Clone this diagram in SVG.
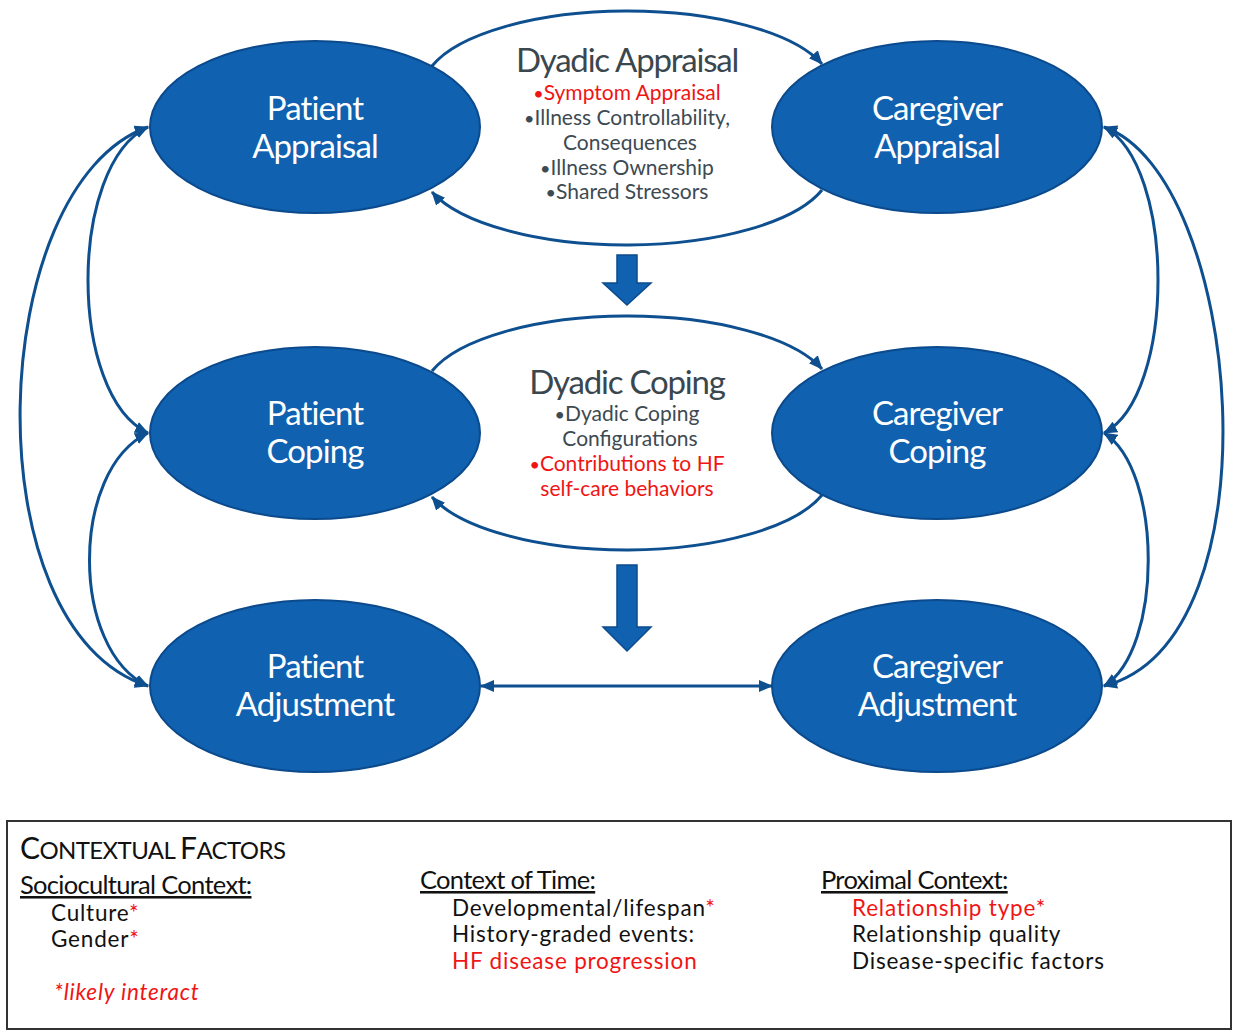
<svg xmlns="http://www.w3.org/2000/svg" width="1233" height="1036" viewBox="0 0 1233 1036">
  <style>
    .node { fill: #1061b0; stroke: #0b4a8c; stroke-width: 2; }
    .ntext { font-family: Lato, "Open Sans", sans-serif; font-size: 33px; fill: #ffffff; text-anchor: middle; letter-spacing: -0.9px; }
    .conn { fill: none; stroke: #0e4f8f; stroke-width: 3; }
    .block { fill: #1061b0; stroke: #0b4a8c; stroke-width: 1.5; }
    .dtitle { font-family: Lato, "Open Sans", sans-serif; font-size: 33px; fill: #3a474e; text-anchor: middle; letter-spacing: -1.2px; }
    .dtext { font-family: Lato, "Open Sans", sans-serif; font-size: 21px; fill: #3d4a52; text-anchor: middle; }
    .bul { font-size: 18px; }
    .ctx { font-family: Lato, "Open Sans", sans-serif; font-size: 22.5px; letter-spacing: 0.8px; fill: #111111; }
    .head { font-size: 25.5px; text-decoration: underline; letter-spacing: -0.7px; }
    text.red, tspan.red { fill: #f01515; }
  </style>
  <defs>
    <marker id="tip" markerUnits="userSpaceOnUse" viewBox="0 0 14 12" markerWidth="14" markerHeight="12" refX="13" refY="6" orient="auto-start-reverse">
      <path d="M0,0 L14,6 L0,12 z" fill="#0e4f8f"/>
    </marker>
  </defs>

  <rect width="1233" height="1036" fill="#ffffff"/>

  <!-- connectors -->
  <g id="connectors">
    <!-- dyadic appraisal loop -->
    <path class="conn" d="M432,66 A205,78 0 0 1 822,64" marker-end="url(#tip)"/>
    <path class="conn" d="M822,190 A205,78 0 0 1 432,192" marker-end="url(#tip)"/>
    <!-- dyadic coping loop -->
    <path class="conn" d="M432,371 A205,78 0 0 1 822,369" marker-end="url(#tip)"/>
    <path class="conn" d="M822,495 A205,78 0 0 1 432,497" marker-end="url(#tip)"/>
    <!-- left side links -->
    <path class="conn" d="M148,127 C-15,185 -30,630 148,686" marker-start="url(#tip)" marker-end="url(#tip)"/>
    <path class="conn" d="M148,127 C68,165 68,395 148,433" marker-start="url(#tip)" marker-end="url(#tip)"/>
    <path class="conn" d="M148,433 C70,470 70,650 148,686" marker-start="url(#tip)" marker-end="url(#tip)"/>
    <!-- right side links -->
    <path class="conn" d="M1104,127 C1242,175 1282,640 1104,686" marker-start="url(#tip)" marker-end="url(#tip)"/>
    <path class="conn" d="M1104,127 C1176,165 1176,395 1104,433" marker-start="url(#tip)" marker-end="url(#tip)"/>
    <path class="conn" d="M1104,433 C1163,470 1163,650 1104,686" marker-start="url(#tip)" marker-end="url(#tip)"/>
    <!-- adjustment link -->
    <path class="conn" d="M481,686 L772,686" marker-start="url(#tip)" marker-end="url(#tip)"/>
    <!-- flow arrows -->
    <polygon class="block" points="617,255 637,255 637,283 651,283 627,305 603,283 617,283"/>
    <polygon class="block" points="617,565 637,565 637,627 651,627 627,651 603,627 617,627"/>
  </g>

  <!-- dyadic appraisal -->
  <g id="dyadic-appraisal">
    <text class="dtitle" x="627" y="72">Dyadic Appraisal</text>
    <text class="dtext red" x="627" y="100"><tspan class="bul">•</tspan>Symptom Appraisal</text>
    <text class="dtext" x="627" y="125"><tspan class="bul">•</tspan>Illness Controllability,</text>
    <text class="dtext" x="630" y="150">Consequences</text>
    <text class="dtext" x="627" y="175"><tspan class="bul">•</tspan>Illness Ownership</text>
    <text class="dtext" x="627" y="199"><tspan class="bul">•</tspan>Shared Stressors</text>
  </g>

  <!-- dyadic coping -->
  <g id="dyadic-coping">
    <text class="dtitle" x="627" y="394">Dyadic Coping</text>
    <text class="dtext" x="627" y="421"><tspan class="bul">•</tspan>Dyadic Coping</text>
    <text class="dtext" x="630" y="446">Configurations</text>
    <text class="dtext red" x="627" y="471"><tspan class="bul">•</tspan>Contributions to HF</text>
    <text class="dtext red" x="627" y="496">self-care behaviors</text>
  </g>

  <g id="patient-appraisal">
    <ellipse class="node" cx="315" cy="127" rx="165" ry="86"/>
    <text class="ntext" x="315" y="120">Patient</text>
    <text class="ntext" x="315" y="158">Appraisal</text>
  </g>
  <g id="caregiver-appraisal">
    <ellipse class="node" cx="937" cy="127" rx="165" ry="86"/>
    <text class="ntext" x="937" y="120">Caregiver</text>
    <text class="ntext" x="937" y="158">Appraisal</text>
  </g>
  <g id="patient-coping">
    <ellipse class="node" cx="315" cy="433" rx="165" ry="86"/>
    <text class="ntext" x="315" y="425">Patient</text>
    <text class="ntext" x="315" y="463">Coping</text>
  </g>
  <g id="caregiver-coping">
    <ellipse class="node" cx="937" cy="433" rx="165" ry="86"/>
    <text class="ntext" x="937" y="425">Caregiver</text>
    <text class="ntext" x="937" y="463">Coping</text>
  </g>
  <g id="patient-adjustment">
    <ellipse class="node" cx="315" cy="686" rx="165" ry="86"/>
    <text class="ntext" x="315" y="678">Patient</text>
    <text class="ntext" x="315" y="716">Adjustment</text>
  </g>
  <g id="caregiver-adjustment">
    <ellipse class="node" cx="937" cy="686" rx="165" ry="86"/>
    <text class="ntext" x="937" y="678">Caregiver</text>
    <text class="ntext" x="937" y="716">Adjustment</text>
  </g>

  <!-- contextual factors panel -->
  <g id="contextual-factors">
    <rect x="7" y="821" width="1224" height="208" fill="#ffffff" stroke="#333333" stroke-width="2"/>
    <text class="ctx" x="20" y="859" style="letter-spacing:-0.6px"><tspan font-size="30">C</tspan><tspan font-size="24">ONTEXTUAL </tspan><tspan font-size="30">F</tspan><tspan font-size="24">ACTORS</tspan></text>

    <text class="ctx head" x="20" y="894">Sociocultural Context:</text>
    <text class="ctx" x="51" y="921">Culture<tspan class="red">*</tspan></text>
    <text class="ctx" x="51" y="947">Gender<tspan class="red">*</tspan></text>
    <text class="ctx red" x="54" y="1000" font-style="italic" font-size="24">*likely interact</text>

    <text class="ctx head" x="420" y="889">Context of Time:</text>
    <text class="ctx" x="452" y="916">Developmental/lifespan<tspan class="red">*</tspan></text>
    <text class="ctx" x="452" y="942">History-graded events:</text>
    <text class="ctx red" x="452" y="969">HF disease progression</text>

    <text class="ctx head" x="821" y="889">Proximal Context:</text>
    <text class="ctx red" x="852" y="916">Relationship type*</text>
    <text class="ctx" x="852" y="942">Relationship quality</text>
    <text class="ctx" x="852" y="969">Disease-specific factors</text>
  </g>
</svg>
